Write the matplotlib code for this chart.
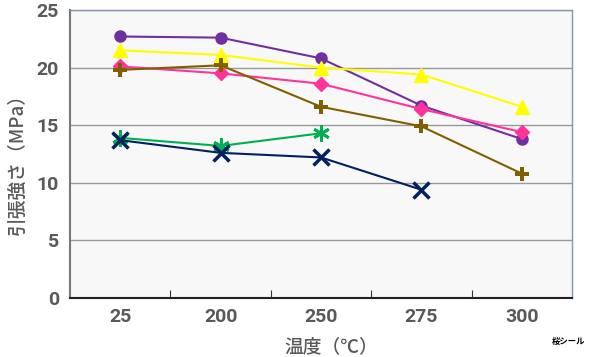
import numpy as np
from matplotlib import pyplot as plt

plt.rcParams['font.family'] = ['Noto Sans CJK JP', 'DejaVu Sans']

temps = ['25', '200', '250', '275', '300']

purple = [22.7, 22.6, 20.8, 16.7, 13.8]
yellow = [21.5, 21.1, 20.0, 19.4, 16.6]
pink = [20.1, 19.5, 18.6, 16.4, 14.4]
brown = [19.8, 20.2, 16.6, 14.9, 10.8]
green = [13.9, 13.2, 14.3]
navy = [13.7, 12.6, 12.2, 9.4]

fig = plt.figure(figsize=(6, 3.57), dpi=100)
ax = fig.add_axes([70/600, 1-298/357, 502/600, 288/357])
ax.set_facecolor('#F8F8F8')

x = np.arange(len(temps)) + 0.5

ax.plot(x, purple, '-o', color='#7030A0', ms=8, lw=1.5)
ax.plot(x, yellow, '-^', color='#FFFF00', ms=10, lw=1.5)
ax.plot(x, pink, '-D', color='#FF3399', ms=7, lw=1.5)
ax.plot(x, brown, '-P', color='#7F6000', ms=10, lw=1.5, mew=0)
ax.plot(x[:3], green, '-', color='#00B050', lw=1.5)
ax.plot(x[:3], green, linestyle='none', marker=(6, 2, 0), color='#00B050', ms=12, mew=2)
ax.plot(x[:4], navy, '-x', color='#002060', ms=11, mew=2.5, lw=1.5)

ax.set_xlim(0, 5)
ax.set_ylim(0, 25)
ax.set_yticks(np.arange(0, 26, 5))
ax.set_xticks(np.arange(1, 5), minor=False)
ax.set_xticks(x, minor=True)
ax.set_xticklabels([])
ax.set_xticklabels(temps, minor=True)
ax.tick_params(axis='x', which='major', direction='in', length=6, color='#333333')
ax.tick_params(axis='x', which='minor', length=0, pad=7)
ax.tick_params(axis='y', direction='in', length=0, pad=8)
for lab in ax.get_yticklabels() + ax.get_xticklabels(minor=True):
    lab.set_family('Roboto')
    lab.set_fontsize(14)
    lab.set_fontweight('bold')
    lab.set_color('#595959')

ax.grid(axis='y', color='#999999', lw=1)
ax.set_axisbelow(True)
for s in ['top', 'right']:
    ax.spines[s].set_color('#8497B0')
    ax.spines[s].set_linewidth(1)
ax.spines['left'].set_color('#777777')
ax.spines['left'].set_linewidth(1.5)
ax.spines['bottom'].set_color('#222222')
ax.spines['bottom'].set_linewidth(1.5)

ax.set_ylabel('引張強さ（MPa）', fontsize=13.5, fontweight='medium', color='#595959')
ax.yaxis.set_label_coords(-0.086, 0.48)
ax.set_xlabel('温度（℃）', fontsize=13.5, fontweight='medium', color='#595959')
ax.xaxis.set_label_coords(0.52, -0.135)

fig.text(0.975, 0.03, '桜シール', fontsize=6, fontweight='bold', ha='right', va='bottom')

fig.savefig('out.png', dpi=100)
